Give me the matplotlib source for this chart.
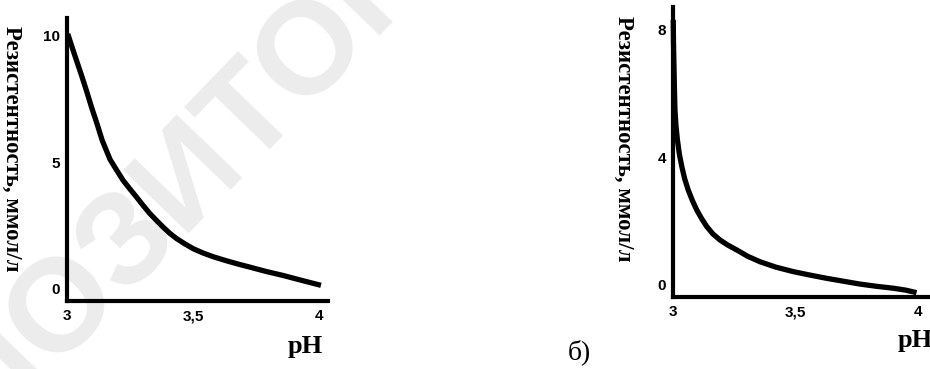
import matplotlib.pyplot as plt

# данные
ph_a = [3.003, 3.020, 3.038, 3.058, 3.078, 3.098, 3.118, 3.140, 3.171, 3.197,
        3.223, 3.250, 3.277, 3.303, 3.329, 3.356, 3.382, 3.408, 3.435, 3.468,
        3.501, 3.540, 3.581, 3.630, 3.687, 3.726, 3.790, 3.858, 3.930, 4.008]
res_a = [10.07, 9.55, 9.01, 8.42, 7.80, 7.15, 6.55, 5.85, 5.10, 4.68,
         4.27, 3.93, 3.60, 3.27, 2.96, 2.68, 2.42, 2.18, 1.97, 1.76,
         1.57, 1.40, 1.25, 1.10, 0.94, 0.84, 0.67, 0.51, 0.32, 0.12]

ph_b = [3.001, 3.002, 3.004, 3.006, 3.008, 3.012, 3.018, 3.026, 3.036, 3.048,
        3.062, 3.079, 3.097, 3.117, 3.138, 3.163, 3.192, 3.224, 3.260, 3.305,
        3.355, 3.420, 3.491, 3.560, 3.627, 3.695, 3.763, 3.830, 3.899, 3.950,
        3.995]
res_b = [8.31, 7.60, 6.84, 6.10, 5.49, 5.00, 4.55, 4.10, 3.71, 3.32,
         2.98, 2.65, 2.35, 2.08, 1.83, 1.60, 1.41, 1.25, 1.10, 0.90,
         0.73, 0.56, 0.42, 0.31, 0.21, 0.12, 0.03, -0.04, -0.10, -0.16,
         -0.24]

x_ticks = [3, 3.5, 4]
x_labels = ["3", "3,5", "4"]
y_ticks_a = [0, 5, 10]
y_ticks_b = [0, 4, 8]
ylabel = "Резистентность, ммол/л"

fig = plt.figure(figsize=(9.3, 3.69), dpi=100)

# водяной знак
fig.text(214 / 930, 1 - 198 / 369, "РЕПОЗИТОРИЙ", rotation=46,
         rotation_mode="anchor", ha="center", va="baseline", fontsize=95,
         fontweight="bold", family="Liberation Sans", color="#ececec",
         zorder=-1)


def draw_panel(rect, ph, res, yticks, ylim, xlim, ylab_x, ylab_y):
    ax = fig.add_axes(rect)
    ax.patch.set_alpha(0)
    ax.plot(ph, res, color="black", lw=3.8, solid_capstyle="butt",
            solid_joinstyle="round", clip_on=False)
    ax.set_xlim(*xlim)
    ax.set_ylim(*ylim)
    for s in ["top", "right"]:
        ax.spines[s].set_visible(False)
    for s in ["left", "bottom"]:
        ax.spines[s].set_linewidth(3)
    ax.set_xticks(x_ticks)
    ax.set_xticklabels(x_labels)
    ax.set_yticks(yticks)
    ax.tick_params(length=0, labelsize=11, pad=5)
    ax.tick_params(axis="x", pad=6)
    for lab in ax.get_xticklabels() + ax.get_yticklabels():
        lab.set_fontweight("bold")
        lab.set_family("Liberation Sans")
    fig.text(ylab_x, ylab_y, ylabel, rotation=270, ha="center", va="center",
             family="Liberation Serif", fontweight="bold", fontsize=16.5)
    return ax


draw_panel([67 / 930, 68 / 369, 261 / 930, 283 / 369], ph_a, res_a,
           y_ticks_a, (-0.5, 10.7), (3, 4.036), 12 / 930, 1 - 149 / 369)
draw_panel([673 / 930, 72 / 369, 257 / 930, 290 / 369], ph_b, res_b,
           y_ticks_b, (-0.376, 8.71), (3, 4.05), 624 / 930, 1 - 139 / 369)

fig.text(305 / 930, 1 - 347 / 369, "pH", ha="center", va="center",
         family="Liberation Serif", fontweight="bold", fontsize=19)
fig.text(915 / 930, 1 - 341 / 369, "pH", ha="center", va="center",
         family="Liberation Serif", fontweight="bold", fontsize=19)
fig.text(579 / 930, 1 - 352 / 369, "б)", ha="center", va="center",
         family="Liberation Serif", fontsize=20)

plt.savefig("out.png", dpi=100)
